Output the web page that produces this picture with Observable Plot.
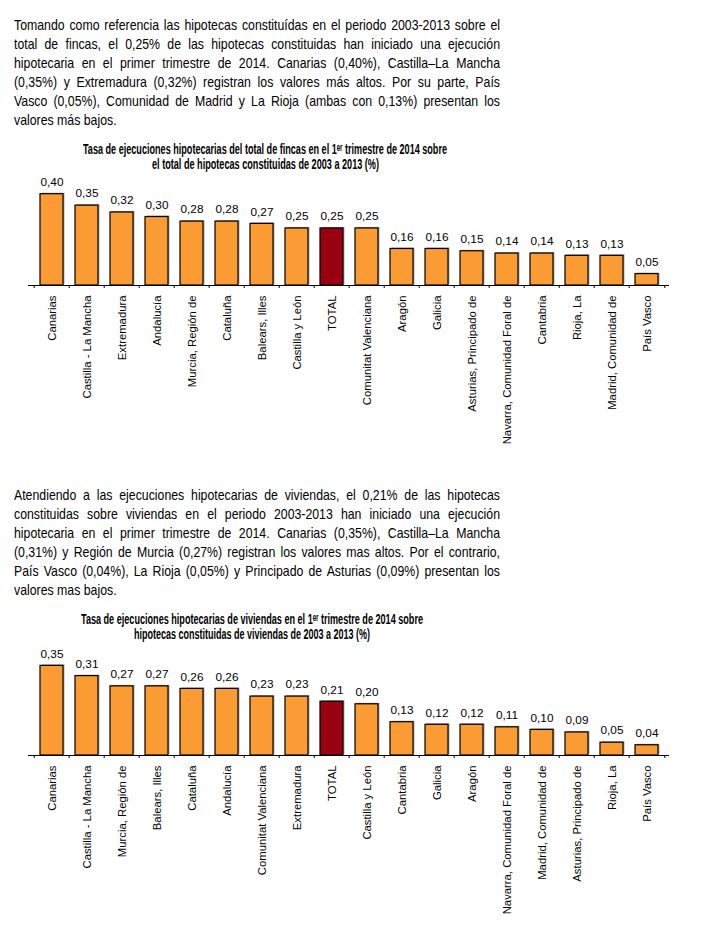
<!DOCTYPE html>
<html>
<head>
<meta charset="utf-8">
<script src="https://cdn.jsdelivr.net/npm/d3@7"></script>
<script src="https://cdn.jsdelivr.net/npm/@observablehq/plot@0.6"></script>
<style>
  html, body { margin: 0; padding: 0; background: #fff; }
  body { width: 726px; height: 928px; position: relative; overflow: hidden; }
  .para { position: absolute; left: 14px; font-family: "Liberation Sans", Arial, sans-serif; font-size: 15px; line-height: 18.9px; color: #000; transform-origin: 0 0; }
  .para .l { display: block; white-space: nowrap; text-align: justify; text-align-last: justify; }
  .para .l.last { text-align-last: left; }
  .title { position: absolute; left: 0; font-family: "Liberation Sans", Arial, sans-serif; font-weight: bold; font-size: 14px; line-height: 16px; color: #000; white-space: nowrap; }
  .title .ln { display: block; position: absolute; transform-origin: 0 0; }
  .chart { position: absolute; left: 0; }
</style>
</head>
<body>
<div class="para" id="p1" style="top:16px"></div>
<div class="title" id="t1"></div>
<div class="chart" id="c1" style="top:170px"></div>
<div class="para" id="p2" style="top:486px"></div>
<div class="title" id="t2"></div>
<div class="chart" id="c2" style="top:640px"></div>
<script>
// ---- Texts ----
const para1 = [
  "Tomando como referencia las hipotecas constituídas en el periodo 2003-2013 sobre el",
  "total de fincas, el 0,25% de las hipotecas constituidas han iniciado una ejecución",
  "hipotecaria en el primer trimestre de 2014. Canarias (0,40%), Castilla–La Mancha",
  "(0,35%) y Extremadura (0,32%) registran los valores más altos. Por su parte, País",
  "Vasco (0,05%), Comunidad de Madrid y La Rioja (ambas con 0,13%) presentan los",
  "valores más bajos."
];
const para2 = [
  "Atendiendo a las ejecuciones hipotecarias de viviendas, el 0,21% de las hipotecas",
  "constituidas sobre viviendas en el periodo 2003-2013 han iniciado una ejecución",
  "hipotecaria en el primer trimestre de 2014. Canarias (0,35%), Castilla–La Mancha",
  "(0,31%) y Región de Murcia (0,27%) registran los valores mas altos. Por el contrario,",
  "País Vasco (0,04%), La Rioja (0,05%) y Principado de Asturias (0,09%) presentan los",
  "valores mas bajos."
];

// ---- Data: chart 1 (total de fincas) ----
const categories1 = ["Canarias", "Castilla - La Mancha", "Extremadura", "Andalucía", "Murcia, Región de", "Cataluña", "Balears, Illes", "Castilla y León", "TOTAL", "Comunitat Valenciana", "Aragón", "Galicia", "Asturias, Principado de", "Navarra, Comunidad Foral de", "Cantabria", "Rioja, La", "Madrid, Comunidad de", "País Vasco"];
const values1 = [0.40, 0.35, 0.32, 0.30, 0.28, 0.28, 0.27, 0.25, 0.25, 0.25, 0.16, 0.16, 0.15, 0.14, 0.14, 0.13, 0.13, 0.05];
const title1 = ["Tasa de ejecuciones hipotecarias del total de fincas en el 1ᵉʳ trimestre de 2014 sobre", "el total de hipotecas constituidas  de 2003 a 2013 (%)"];

// ---- Data: chart 2 (viviendas) ----
const categories2 = ["Canarias", "Castilla - La Mancha", "Murcia, Región de", "Balears, Illes", "Cataluña", "Andalucía", "Comunitat Valenciana", "Extremadura", "TOTAL", "Castilla y León", "Cantabria", "Galicia", "Aragón", "Navarra, Comunidad Foral de", "Madrid, Comunidad de", "Asturias, Principado de", "Rioja, La", "País Vasco"];
const values2 = [0.35, 0.31, 0.27, 0.27, 0.26, 0.26, 0.23, 0.23, 0.21, 0.20, 0.13, 0.12, 0.12, 0.11, 0.10, 0.09, 0.05, 0.04];
const title2 = ["Tasa de ejecuciones hipotecarias de viviendas en el 1ᵉʳ trimestre de 2014 sobre", "hipotecas constituidas de viviendas de 2003 a 2013 (%)"];

const ORANGE = "#FB9B33";
const DARKRED = "#990010";

// narrow body text (Arial Narrow look) by horizontal condensing, lines as in the original
function makePara(el, lines, targetWidth, k) {
  el.style.width = (targetWidth / k) + "px";
  el.style.transform = `scaleX(${k})`;
  lines.forEach((t, i) => {
    const d = document.createElement("div");
    d.className = "l" + (i === lines.length - 1 ? " last" : "");
    d.textContent = t;
    el.appendChild(d);
  });
}

function makeTitle(el, lines, center, top, targets) {
  el.style.top = top + "px";
  lines.forEach((t, i) => {
    const s = document.createElement("span");
    s.className = "ln";
    s.textContent = t;
    s.style.top = (i * 15.3) + "px";
    el.appendChild(s);
    const w = s.getBoundingClientRect().width;
    const k = targets[i] / w;
    s.style.transform = `scaleX(${k})`;
    s.style.left = (center - targets[i] / 2) + "px";
  });
}

function makeChart(el, cats, vals, opts) {
  const data = cats.map((c, i) => ({cat: c, val: vals[i]}));
  const width = 726, marginLeft = 28, marginRight = 57;
  const step = (width - marginLeft - marginRight) / cats.length;
  const fmt = v => v.toFixed(2).replace(".", ",");
  const tickLen = 3 / opts.pxPerUnit;
  const chart = Plot.plot({
    width,
    height: opts.height,
    marginLeft, marginRight,
    marginTop: opts.marginTop,
    marginBottom: opts.marginBottom,
    style: {fontFamily: "'Liberation Sans', Arial, sans-serif", fontSize: "11.5px", color: "#000", background: "transparent"},
    x: {domain: cats, paddingInner: 0.35, paddingOuter: 0.175, label: null},
    y: {domain: [0, opts.ymax], axis: null},
    marks: [
      Plot.barY(data, {x: "cat", y: "val", fill: "#aaa", dx: 1.5, dy: -1}),
      Plot.barY(data, {x: "cat", y: "val", fill: d => d.cat === "TOTAL" ? DARKRED : ORANGE, stroke: "#000", strokeWidth: 1.2}),
      Plot.ruleY([0], {stroke: "#000", strokeWidth: 1.2}),
      Plot.ruleX(cats, {x: d => d, dx: -step / 2, y1: 0, y2: -tickLen, stroke: "#000"}),
      Plot.ruleX([cats[cats.length - 1]], {x: d => d, dx: step / 2, y1: 0, y2: -tickLen, stroke: "#000"}),
      Plot.text(data, {x: "cat", y: "val", text: d => fmt(d.val), dy: -12, fill: "#000", fontSize: 11.8}),
      Plot.axisX({tickRotate: -90, tickSize: 0, tickPadding: 10, fontSize: 11.3})
    ]
  });
  el.appendChild(chart);
}

makePara(document.getElementById("p1"), para1, 486, 0.82);
makePara(document.getElementById("p2"), para2, 486, 0.82);
makeTitle(document.getElementById("t1"), title1, 265, 140.6, [364, 227]);
makeTitle(document.getElementById("t2"), title2, 252, 610.6, [342, 236]);
makeChart(document.getElementById("c1"), categories1, values1, {height: 275, marginTop: 10, marginBottom: 160, ymax: 0.46, pxPerUnit: 227.5});
makeChart(document.getElementById("c2"), categories2, values2, {height: 285, marginTop: 10, marginBottom: 170, ymax: 0.41, pxPerUnit: 256});
</script>
</body>
</html>
